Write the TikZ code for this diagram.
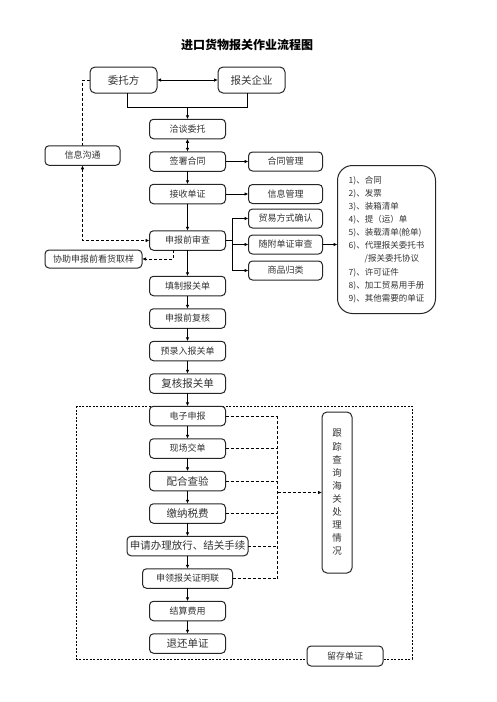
\documentclass[tikz,border=0pt]{standalone}
\usepackage{fontspec}
\setmainfont{Noto Sans CJK SC}
\usepackage{tikz}
\usetikzlibrary{
	arrows.meta,shapes,backgrounds,positioning,fit,calc
}
\tikzset{
	auto,
	stepbox/.style={
		rectangle, minimum width=76pt, minimum height=19.5pt, rounded corners=4pt,
		inner sep=1pt, outer sep=0pt, line width=1pt, draw=black!85, fill=white, text=black!80,
		font=\fontsize{9}{10}\selectfont
	},
	%
	bigstep/.style={
		stepbox, font=\fontsize{10.5}{12}\selectfont
	},
	%
	sidebox/.style={
		stepbox, minimum width=74pt, minimum height=19pt
	},
	%
	partybox/.style={
		stepbox, minimum width=67pt, minimum height=26pt, rounded corners=5pt,
		font=\fontsize{10.5}{12}\selectfont
	},
	%
	listbox/.style={
		rectangle, minimum width=98pt, minimum height=148pt, rounded corners=15pt,
		outer sep=0pt, line width=1pt, draw=black!85, fill=white, text=black!80, align=left,
		font=\fontsize{8.5}{13.1}\selectfont
	},
	%
	followbox/.style={
		rectangle, minimum width=30pt, minimum height=161pt, rounded corners=5pt,
		outer sep=0pt, line width=1pt, draw=black!85, fill=white, text=black!80, align=center,
		font=\fontsize{9.5}{13.1}\selectfont
	},
	%
	link/.style={->, line width=0.8pt},
	infoline/.style={dash pattern=on 3pt off 2pt, line width=0.8pt},
	frameline/.style={dash pattern=on 2pt off 1.5pt, line width=0.8pt}
}

\begin{document}
\begin{tikzpicture}[x=1pt, y=-1pt, node distance=13pt, >={Latex[length=4pt,width=3.5pt]}]
    \useasboundingbox (0,0) rectangle (496,702);
    \node(title) at (247,45) {\fontsize{12}{14}\selectfont\bfseries 进口货物报关作业流程图};
    % parties
    \node(client)[partybox] at (123.5,80){委托方};
    \node(agent)[partybox] at (251.5,80){报关企业};
    \draw[<->, line width=0.8pt] (client) -- (agent);
    % main column
    \node(talk)[stepbox] at (187.5,129){洽谈委托};
    \node(sign)[stepbox, below=of talk]{签署合同};
    \node(receive)[stepbox, below=of sign]{接收单证};
    \node(check)[stepbox, below=27pt of receive]{申报前审查};
    \node(fillform)[stepbox, below=26pt of check]{填制报关单};
    \node(review)[stepbox, below=of fillform]{申报前复核};
    \node(prefill)[stepbox, below=of review]{预录入报关单};
    \node(recheck)[bigstep, below=of prefill]{复核报关单};
    \node(edecl)[stepbox, below=of recheck]{电子申报};
    \node(submit)[stepbox, below=of edecl]{现场交单};
    \node(inspect)[bigstep, below=of submit]{配合查验};
    \node(pay)[bigstep, below=of inspect]{缴纳税费};
    \node(release)[bigstep, minimum width=121pt, below=of pay]{申请办理放行、结关手续};
    \node(proof)[stepbox, minimum width=90pt, below=of release]{申领报关证明联};
    \node(settle)[stepbox, below=of proof]{结算费用};
    \node(returndocs)[bigstep, below=of settle]{退还单证};
    \coordinate(join) at ($(talk.north)+(0,-12)$);
    \draw[line width=0.8pt] ([xshift=3.5pt]client.south) |- (join) -| ([xshift=-4.5pt]agent.south);
    \draw[link] (join) -- (talk);
    \draw[<->, line width=0.8pt] (talk) -- (sign);
    \draw[link] (sign) -- (receive);
    \foreach \a/\b in {receive/check, check/fillform, fillform/review, review/prefill,
        prefill/recheck, recheck/edecl, edecl/submit, submit/inspect, inspect/pay,
        pay/release, release/proof, proof/settle, settle/returndocs}
        \draw[link] (\a) -- (\b);
    % side tasks
    \node(contract)[sidebox, right=23pt of sign]{合同管理};
    \node(infomgmt)[sidebox, right=23pt of receive]{信息管理};
    \draw[link] (sign) -- (contract);
    \draw[link] (receive) -- (infomgmt);
    \node(attach)[sidebox, right=23pt of check, yshift=-4pt]{随附单证审查};
    \node(trade)[sidebox, above=7pt of attach]{贸易方式确认};
    \node(hscode)[sidebox, below=7pt of attach]{商品归类};
    \coordinate(split) at ([xshift=7pt]check.east);
    \draw[line width=0.8pt] (check.east) -- (split);
    \foreach \n in {trade, attach, hscode}
        \draw[link] (split) |- (\n);
    \node(docs)[listbox, right=15pt of attach, yshift=5pt]{1)、合同\\2)、发票\\3)、装箱清单\\4)、提（运）单\\5)、装载清单(舱单)\\6)、代理报关委托书\\\hspace{16pt}/报关委托协议\\7)、许可证件\\8)、加工贸易用手册\\9)、其他需要的单证};
    \draw[link] (attach) -- (attach -| docs.west);
    % information
    \node(comm)[stepbox, minimum width=75pt] at (82.5,155.5){信息沟通};
    \node(assist)[stepbox, minimum width=97pt, minimum height=18pt] at (93.5,259){协助申报前看货取样};
    \draw[infoline, ->] ([xshift=-14pt]check.south) |- (assist.east);
    % customs tracking
    \node(follow)[followbox] at (337,492.5){跟\\踪\\查\\询\\海\\关\\处\\理\\情\\况};
    \coordinate(bus) at ([xshift=52pt]edecl.east);
    \foreach \n in {edecl, submit, inspect, pay, release, proof}
        \draw[infoline] (\n.east) -- (\n.east -| bus);
    \draw[infoline] (edecl.east -| bus) -- (proof.east -| bus);
    \draw[infoline, ->] (follow.west -| bus) -- (follow.west);
    \node(keep)[stepbox, minimum height=20pt] at (345,656){留存单证};
    \begin{scope}[on background layer]
        \draw[infoline, <->] (client.west) -| (comm) |- (check.west);
        \draw[frameline] ($(edecl.north west)+(-73,0)$) rectangle ($(keep.east)+(29,3)$);
    \end{scope}
\end{tikzpicture}
\end{document}
